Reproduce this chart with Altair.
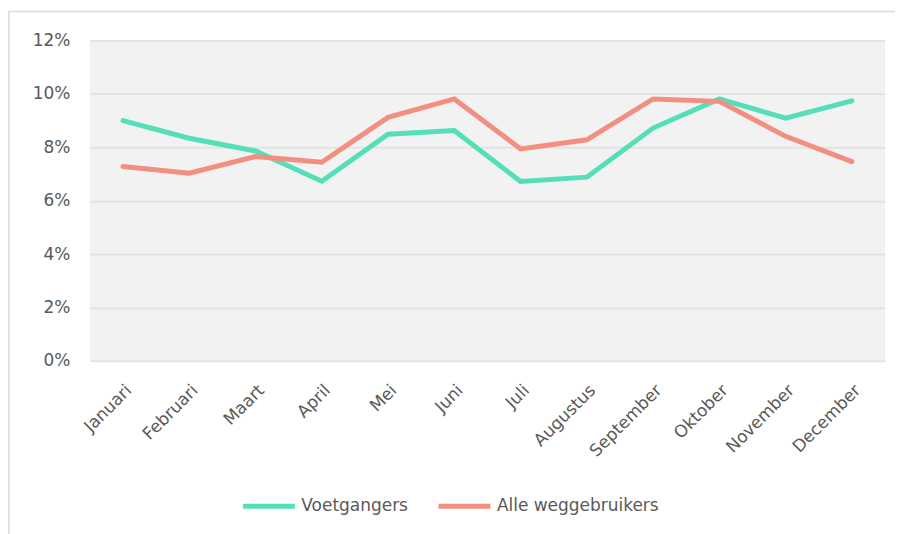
import altair as alt
import pandas as pd

months = ["Januari", "Februari", "Maart", "April", "Mei", "Juni", "Juli",
          "Augustus", "September", "Oktober", "November", "December"]
voetgangers = [9.00, 8.34, 7.86, 6.73, 8.49, 8.63, 6.72, 6.88, 8.72, 9.81, 9.09, 9.74]
alle = [7.28, 7.03, 7.65, 7.44, 9.12, 9.81, 7.94, 8.28, 9.81, 9.72, 8.41, 7.46]
series = ["Voetgangers", "Alle weggebruikers"]
colors = ["#54DFB9", "#F28F81"]
y_ticks = [0, 0.02, 0.04, 0.06, 0.08, 0.10, 0.12]

rows = []
for m, v in zip(months, voetgangers):
    rows.append({"maand": m, "serie": series[0], "waarde": v / 100})
for m, v in zip(months, alle):
    rows.append({"maand": m, "serie": series[1], "waarde": v / 100})
df = pd.DataFrame(rows)

FONT = "DejaVu Sans"
TXT = "#595959"

lines = alt.Chart(df).mark_line(strokeWidth=5, strokeCap="round").encode(
    x=alt.X("maand:N", sort=months,
            scale=alt.Scale(type="point", padding=0.5),
            axis=alt.Axis(title=None, labelAngle=-45, grid=False, domain=False,
                          ticks=False, labelFontSize=17, labelColor=TXT,
                          labelFont=FONT, labelPadding=21)),
    y=alt.Y("waarde:Q", scale=alt.Scale(domain=[0, 0.12], nice=False),
            axis=alt.Axis(title=None, values=y_ticks, format=".0%", domain=False,
                          ticks=False, labelFontSize=17, labelColor=TXT,
                          labelFont=FONT, labelPadding=20, gridColor="#E3E3E3",
                          gridWidth=2)),
    color=alt.Color("serie:N", sort=series,
                    scale=alt.Scale(domain=series, range=colors),
                    legend=alt.Legend(title=None, orient="none", direction="horizontal",
                                      legendX=151, legendY=438,
                                      symbolType="stroke", symbolStrokeWidth=5,
                                      symbolSize=2704, labelFontSize=17,
                                      labelColor=TXT, labelFont=FONT, labelLimit=0,
                                      labelOffset=4, columnPadding=20)),
    order=alt.Order("serie:N"),
)

border = alt.Chart(alt.Data(values=[{}])).mark_rect(
    fill="transparent", stroke="#DADADA", strokeWidth=1.5, clip=False
).encode(x=alt.value(-81), x2=alt.value(813), y=alt.value(-29), y2=alt.value(510))

chart = alt.layer(border, lines).properties(
    width=797, height=321,
    padding={"left": 82, "top": 32, "right": 10, "bottom": 173},
    autosize=alt.AutoSizeParams(type="none"),
    background="white",
).configure_view(fill="#F2F2F2", stroke=None)

chart.save("out.html", embed_options={"renderer": "svg", "actions": False})
